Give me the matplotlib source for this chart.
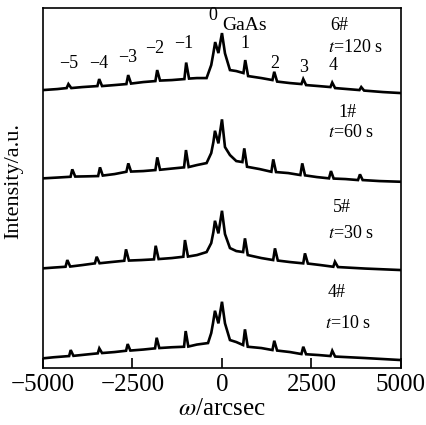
import matplotlib
matplotlib.use("Agg")
import matplotlib.pyplot as plt

plt.rcParams['font.family'] = ['Liberation Serif', 'DejaVu Serif']
plt.rcParams['mathtext.fontset'] = 'stix'

# rocking curves (stacked intensity, a.u.)
# sample 6#, t=120 s
omega_6 = [-5000, -4600, -4340, -4290, -4210, -3900, -3480, -3430, -3350, -3000,
           -2670, -2620, -2540, -2200, -1860, -1810, -1730, -1400, -1050, -1000,
           -920, -700, -430, -300, -240, -190, -100, 0, 84, 223,
           400, 600, 650, 730, 1100, 1410, 1460, 1540, 1900, 2220,
           2270, 2350, 2700, 3030, 3080, 3160, 3500, 3840, 3890, 3970,
           4500, 5000]
inten_6 = [278, 279, 280, 284, 280, 281, 282, 289, 282, 283,
           284, 293, 284.5, 286, 287, 298, 287.5, 288, 289, 305.5,
           289.5, 290, 290, 303, 315, 326, 315, 335, 314.7, 298,
           297, 295, 308, 292, 290, 288, 296.3, 286.5, 285, 284,
           289, 283, 282, 281, 285.5, 280, 279, 278, 281, 277.5,
           276, 275]

# sample 1#, t=60 s
omega_1 = [-5000, -4600, -4230, -4182, -4100, -3800, -3460, -3408, -3330, -3000,
           -2670, -2617, -2540, -2200, -1860, -1807, -1730, -1400, -1060, -1006,
           -930, -700, -430, -300, -240, -196, -100, 0, 84, 223,
           400, 570, 623, 700, 1050, 1380, 1433, 1510, 1850, 2190,
           2243, 2320, 2650, 2990, 3045, 3120, 3450, 3800, 3855, 3930,
           4400, 5000]
inten_1 = [189.7, 190.5, 191.3, 198.7, 191.5, 191.7, 192, 200.7, 192.5, 194,
           196.3, 204.7, 196.5, 197, 198, 210.7, 198.3, 199.5, 200.7, 218,
           201, 203, 205, 215, 226, 237.3, 224.7, 248.7, 221, 213,
           207, 206, 219.7, 201.3, 199, 196.3, 208.7, 196, 195, 193,
           204.7, 192.7, 191, 189.7, 197, 189.5, 189, 188, 193.7, 188,
           187, 186.3]

# sample 5#, t=30 s
omega_5 = [-5000, -4700, -4370, -4321, -4240, -3900, -3550, -3500, -3420, -3100,
           -2730, -2681, -2600, -2250, -1900, -1852, -1770, -1400, -1080, -1034,
           -950, -700, -430, -300, -240, -196, -100, 0, 84, 223,
           400, 590, 642, 720, 1100, 1430, 1480, 1560, 1900, 2270,
           2318, 2400, 2750, 3110, 3156, 3240, 4000, 5000]
inten_5 = [99.7, 100.5, 101.3, 108, 101.5, 103, 104.7, 111.3, 104.8, 106,
           107.3, 118.7, 107.5, 108, 108.7, 122.3, 109, 110, 111.3, 128,
           111.5, 113, 116, 125, 136, 147.3, 134.7, 157.3, 134, 120,
           117, 116, 129.7, 113, 110, 108, 119.7, 107.5, 106, 104.7,
           114.7, 104.5, 103, 101.3, 106.3, 101, 99.5, 98]

# sample 4#, t=10 s
omega_4 = [-5000, -4700, -4270, -4226, -4150, -3800, -3470, -3427, -3350, -3000,
           -2680, -2634, -2560, -2200, -1870, -1824, -1750, -1400, -1060, -1014,
           -940, -700, -390, -300, -250, -196, -100, 0, 84, 223,
           400, 590, 642, 720, 1100, 1410, 1461, 1540, 1900, 2220,
           2271, 2350, 2700, 3030, 3081, 3160, 4000, 5000]
inten_4 = [9.7, 10.8, 12, 18, 12.2, 13.5, 14.7, 19.7, 15, 16,
           17.3, 24, 17.5, 18.5, 19.7, 30.3, 20, 20.8, 21.3, 37,
           21.5, 23.5, 25, 35, 45, 57.3, 44.7, 66.3, 44.7, 28,
           26, 23, 38.7, 21.3, 20, 18, 27.3, 17.5, 16, 14,
           21.3, 13.8, 13, 12, 17.3, 11.5, 10, 8]

# satellite order labels above the top curve
sat_labels = ['\u22125', '\u22124', '\u22123', '\u22122', '\u22121', '1', '2', '3', '4']
sat_x = [-4274, -3436, -2626, -1872, -1061, 642, 1480, 2290, 3100]
sat_y = [305, 305, 311, 320, 325, 325, 305, 301, 303]

sample_names = ['6#', '1#', '5#', '4#']
sample_times = ['$t$=120 s', '$t$=60 s', '$t$=30 s', '$t$=10 s']

fig = plt.figure(figsize=(4.27, 4.25), dpi=100)
ax = fig.add_axes([0.1007, 0.134, 0.8383, 0.847])

for om, it in [(omega_6, inten_6), (omega_1, inten_1), (omega_5, inten_5), (omega_4, inten_4)]:
    ax.plot(om, it, color='black', lw=1.9, solid_joinstyle='miter')

ax.set_xlim(-5000, 5000)
ax.set_ylim(0, 360)
ax.set_xticks([-5000, -2500, 0, 2500, 5000])
ax.set_xticklabels(['\u22125000', '\u22122500', '0', '2500', '5000'])
ax.set_yticks([])
ax.tick_params(axis='x', direction='in', length=7, width=1.2, labelsize=18, pad=4)
for s in ax.spines.values():
    s.set_linewidth(1.2)

ax.set_xlabel(r'$\omega$/arcsec', fontsize=18, labelpad=2)
ax.set_ylabel('Intensity/a.u.', fontsize=16, labelpad=7)
ax.yaxis.set_label_coords(-0.055, 0.52)

for lab, x, y in zip(sat_labels, sat_x, sat_y):
    ax.text(x, y, lab, fontsize=13, ha='center', va='center')
ax.text(-250, 353, '0', fontsize=13, ha='center', va='center')
ax.text(0, 343, 'GaAs', fontsize=14, ha='left', va='center')

name_pos = [(3017, 343), (3240, 256), (3100, 161), (2961, 76)]
time_pos = [(2961, 321), (2961, 236), (2961, 135), (2877, 45)]
for nm, (x, y) in zip(sample_names, name_pos):
    ax.text(x, y, nm, fontsize=13, ha='left', va='center')
for tt, (x, y) in zip(sample_times, time_pos):
    ax.text(x, y, tt, fontsize=13, ha='left', va='center')

fig.savefig('out.png', dpi=100)
